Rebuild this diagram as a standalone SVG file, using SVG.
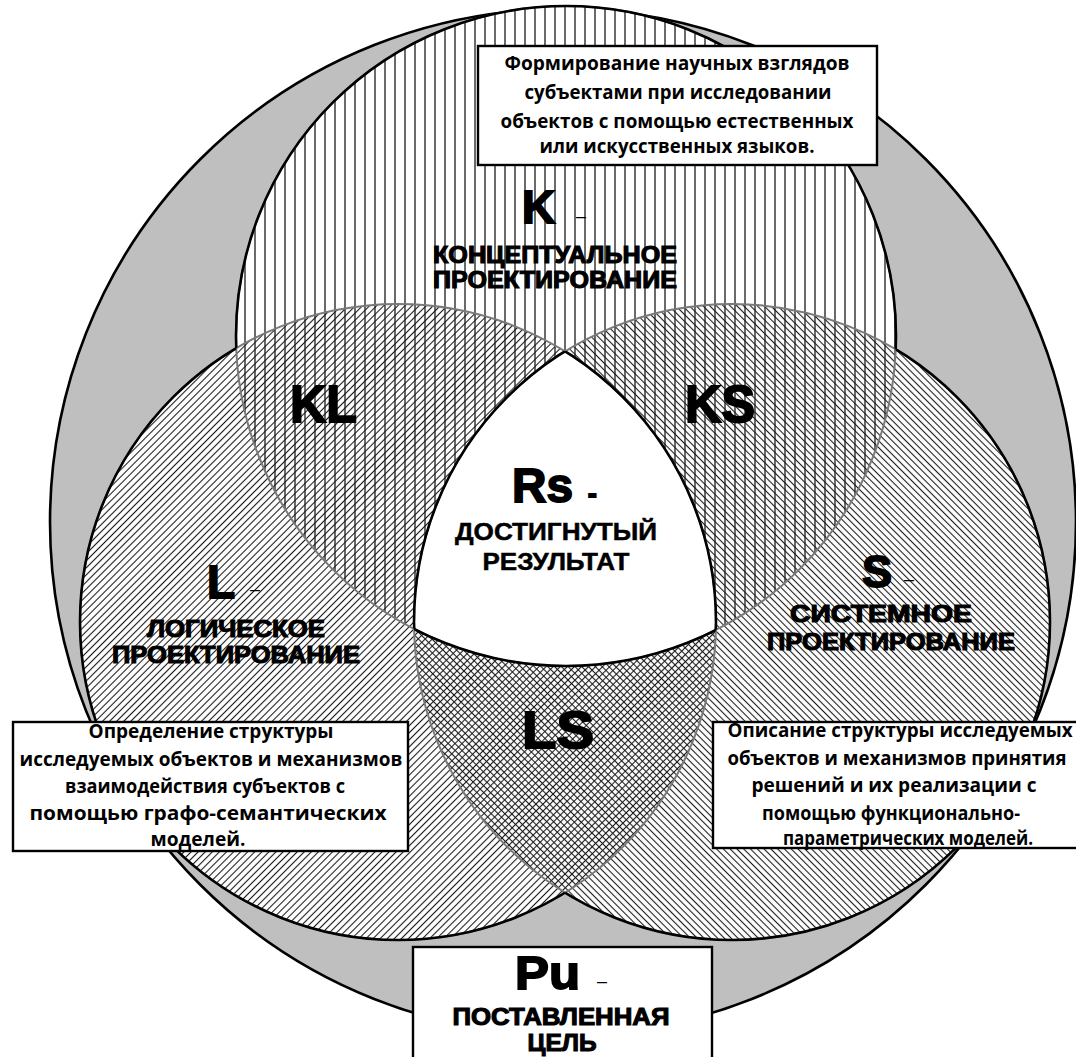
<svg xmlns="http://www.w3.org/2000/svg" width="1076" height="1057" viewBox="0 0 1076 1057">
  <style>
    .edge { fill: none; stroke: #000; stroke-width: 2.6; }
    .inner { fill: none; stroke: #7a7a7a; stroke-width: 2; }
    .box { fill: #fff; stroke: #000; stroke-width: 2.4; }
    .note { font-family: "Open Sans", "Noto Sans", sans-serif; font-weight: 700; font-size: 19px; text-anchor: middle; fill: #000; }
    .big { font-family: "Liberation Sans", Arial, sans-serif; font-weight: 700; fill: #000; stroke: #000; stroke-width: 1.8; }
    .cap { font-family: "Liberation Sans", Arial, sans-serif; font-weight: 700; font-size: 24px; text-anchor: middle; fill: #000; stroke: #000; stroke-width: 1.1; }
    .cap2 { font-family: "Liberation Sans", Arial, sans-serif; font-weight: 700; font-size: 24px; text-anchor: middle; fill: #000; stroke: #000; stroke-width: 0.5; }
    .dash { font-family: "Liberation Sans", Arial, sans-serif; font-weight: 400; font-size: 18px; fill: #000; }
  </style>
  <defs>
    <circle id="cK" cx="566" cy="336" r="330"/>
    <circle id="cL" cx="398" cy="622" r="318"/>
    <circle id="cS" cx="732" cy="622" r="318"/>
    <!-- hatch fills -->
    <pattern id="hK" patternUnits="userSpaceOnUse" width="10" height="10">
      <line x1="5" y1="0" x2="5" y2="10" stroke="#1a1a1a" stroke-width="1.3"/>
    </pattern>
    <pattern id="hL" patternUnits="userSpaceOnUse" width="5" height="5" patternTransform="rotate(-45)">
      <line x1="0" y1="2.5" x2="5" y2="2.5" stroke="#1a1a1a" stroke-width="1.1"/>
    </pattern>
    <pattern id="hS" patternUnits="userSpaceOnUse" width="4.8" height="4.8" patternTransform="rotate(45)">
      <line x1="0" y1="2.4" x2="4.8" y2="2.4" stroke="#1a1a1a" stroke-width="1.1"/>
    </pattern>
    <clipPath id="clipK"><use href="#cK"/></clipPath>
    <clipPath id="clipL"><use href="#cL"/></clipPath>
    <clipPath id="clipS"><use href="#cS"/></clipPath>
    <!-- outline parts lying outside the other two circles -->
    <mask id="mK" maskUnits="userSpaceOnUse" x="0" y="0" width="1076" height="1057">
      <rect width="1076" height="1057" fill="#fff"/>
      <use href="#cL" fill="#000"/><use href="#cS" fill="#000"/>
    </mask>
    <mask id="mL" maskUnits="userSpaceOnUse" x="0" y="0" width="1076" height="1057">
      <rect width="1076" height="1057" fill="#fff"/>
      <use href="#cK" fill="#000"/><use href="#cS" fill="#000"/>
    </mask>
    <mask id="mS" maskUnits="userSpaceOnUse" x="0" y="0" width="1076" height="1057">
      <rect width="1076" height="1057" fill="#fff"/>
      <use href="#cK" fill="#000"/><use href="#cL" fill="#000"/>
    </mask>
  </defs>

  <rect width="1076" height="1057" fill="#fff"/>

  <!-- Pu: outer circle -->
  <g id="outer">
    <circle cx="563" cy="522" r="513" fill="#bfbfbf" stroke="#000" stroke-width="2.6"/>
  </g>

  <!-- three overlapping circles with hatching -->
  <g id="circles">
    <use href="#cK" fill="#fff"/>
    <use href="#cL" fill="#fff"/>
    <use href="#cS" fill="#fff"/>
    <use href="#cK" fill="url(#hK)"/>
    <use href="#cL" fill="url(#hL)"/>
    <use href="#cS" fill="url(#hS)"/>
  </g>

  <!-- Rs: common part of all three circles -->
  <g id="rs-area">
    <g clip-path="url(#clipL)"><g clip-path="url(#clipS)"><use href="#cK" fill="#fff"/></g></g>
  </g>

  <g id="outlines">
    <use href="#cK" class="inner"/>
    <use href="#cL" class="inner"/>
    <use href="#cS" class="inner"/>
    <use href="#cK" class="edge" mask="url(#mK)"/>
    <use href="#cL" class="edge" mask="url(#mL)"/>
    <use href="#cS" class="edge" mask="url(#mS)"/>
    <g clip-path="url(#clipL)"><g clip-path="url(#clipS)"><use href="#cK" class="edge"/></g></g>
    <g clip-path="url(#clipK)"><g clip-path="url(#clipS)"><use href="#cL" class="edge"/></g></g>
    <g clip-path="url(#clipK)"><g clip-path="url(#clipL)"><use href="#cS" class="edge"/></g></g>
  </g>

  <!-- K -->
  <g id="node-k">
    <text class="big" x="522" y="223" font-size="46">K</text>
    <text class="dash" x="576" y="222">–</text>
    <text class="cap" x="555" y="263" textLength="244" lengthAdjust="spacingAndGlyphs">КОНЦЕПТУАЛЬНОЕ</text>
    <text class="cap" x="555" y="288" textLength="244" lengthAdjust="spacingAndGlyphs">ПРОЕКТИРОВАНИЕ</text>
  </g>
  <g id="node-k-note">
    <rect class="box" x="478" y="46" width="399" height="119"/>
    <text class="note" x="677" y="70" textLength="345" lengthAdjust="spacingAndGlyphs">Формирование научных взглядов</text>
    <text class="note" x="678" y="99" textLength="307" lengthAdjust="spacingAndGlyphs">субъектами при исследовании</text>
    <text class="note" x="677" y="128" textLength="353" lengthAdjust="spacingAndGlyphs">объектов с помощью естественных</text>
    <text class="note" x="677" y="153" textLength="275" lengthAdjust="spacingAndGlyphs">или искусственных языков.</text>
  </g>

  <!-- L -->
  <g id="node-l">
    <text class="big" x="207" y="598" font-size="46">L</text>
    <text class="dash" x="250" y="595">–</text>
    <text class="cap" x="236" y="637" textLength="178" lengthAdjust="spacingAndGlyphs">ЛОГИЧЕСКОЕ</text>
    <text class="cap" x="236" y="663" textLength="248" lengthAdjust="spacingAndGlyphs">ПРОЕКТИРОВАНИЕ</text>
  </g>
  <g id="node-l-note">
    <rect class="box" x="13" y="722" width="395" height="129"/>
    <text class="note" x="211" y="738" textLength="245" lengthAdjust="spacingAndGlyphs">Определение структуры</text>
    <text class="note" x="211" y="766" textLength="383" lengthAdjust="spacingAndGlyphs">исследуемых объектов и механизмов</text>
    <text class="note" x="205" y="793" textLength="280" lengthAdjust="spacingAndGlyphs">взаимодействия субъектов с</text>
    <text class="note" x="208" y="820" textLength="357" lengthAdjust="spacingAndGlyphs">помощью графо-семантических</text>
    <text class="note" x="198" y="846" textLength="95" lengthAdjust="spacingAndGlyphs">моделей.</text>
  </g>

  <!-- S -->
  <g id="node-s">
    <text class="big" x="862" y="587" font-size="45">S</text>
    <text class="dash" x="904" y="585">–</text>
    <text class="cap" x="881" y="622" textLength="182" lengthAdjust="spacingAndGlyphs">СИСТЕМНОЕ</text>
    <text class="cap" x="891" y="650" textLength="248" lengthAdjust="spacingAndGlyphs">ПРОЕКТИРОВАНИЕ</text>
  </g>
  <g id="node-s-note">
    <rect class="box" x="713" y="722" width="365" height="126"/>
    <text class="note" x="900" y="737" textLength="345" lengthAdjust="spacingAndGlyphs">Описание структуры исследуемых</text>
    <text class="note" x="897" y="765" textLength="339" lengthAdjust="spacingAndGlyphs">объектов и механизмов принятия</text>
    <text class="note" x="894" y="792" textLength="285" lengthAdjust="spacingAndGlyphs">решений и их реализации с</text>
    <text class="note" x="891" y="820" textLength="258" lengthAdjust="spacingAndGlyphs">помощью функционально-</text>
    <text class="note" x="908" y="845" textLength="250" lengthAdjust="spacingAndGlyphs">параметрических моделей.</text>
  </g>

  <!-- pairwise overlaps -->
  <g id="node-kl"><text class="big" x="290" y="422" font-size="51" textLength="67" lengthAdjust="spacingAndGlyphs">KL</text></g>
  <g id="node-ks"><text class="big" x="685" y="422" font-size="51" textLength="70" lengthAdjust="spacingAndGlyphs">KS</text></g>
  <g id="node-ls"><text class="big" x="522" y="748" font-size="51" textLength="72" lengthAdjust="spacingAndGlyphs">LS</text></g>

  <!-- Rs -->
  <g id="node-rs">
    <text class="big" x="512" y="502" font-size="48" textLength="61" lengthAdjust="spacingAndGlyphs">Rs</text>
    <text class="big" x="588" y="502" font-size="26">-</text>
    <text class="cap2" x="556" y="540" textLength="202" lengthAdjust="spacingAndGlyphs">ДОСТИГНУТЫЙ</text>
    <text class="cap2" x="556" y="570" textLength="147" lengthAdjust="spacingAndGlyphs">РЕЗУЛЬТАТ</text>
  </g>

  <!-- Pu -->
  <g id="node-pu">
    <rect class="box" x="413" y="947" width="299" height="120"/>
    <text class="big" x="515" y="989" font-size="47" textLength="65" lengthAdjust="spacingAndGlyphs">Pu</text>
    <text class="dash" x="597" y="987">–</text>
    <text class="cap" x="561" y="1025" textLength="217" lengthAdjust="spacingAndGlyphs">ПОСТАВЛЕННАЯ</text>
    <text class="cap" x="562" y="1051" textLength="69" lengthAdjust="spacingAndGlyphs">ЦЕЛЬ</text>
  </g>
</svg>
